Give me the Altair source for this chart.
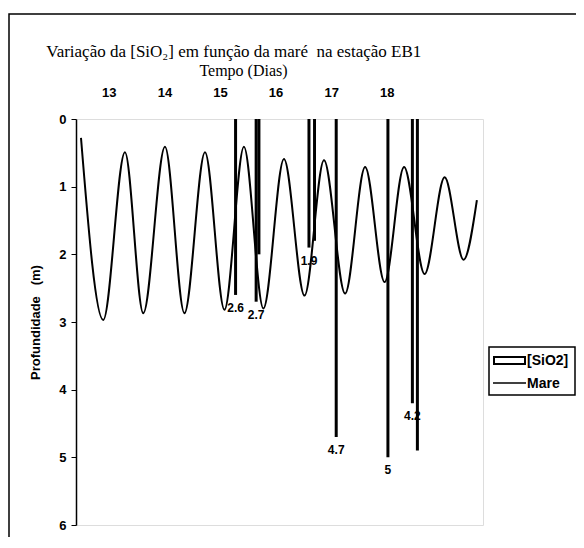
import altair as alt
import pandas as pd

# Tide curve (turning points): day, depth (m)
tide_day = [12.50, 12.90, 13.29, 13.62, 14.01, 14.36, 14.73, 15.08, 15.43, 15.78,
            16.15, 16.52, 16.87, 17.25, 17.61, 17.96, 18.31, 18.68, 19.04, 19.38, 19.62]
tide_depth = [0.28, 2.97, 0.49, 2.87, 0.41, 2.87, 0.49, 2.82, 0.41, 2.80,
              0.59, 2.61, 0.61, 2.58, 0.71, 2.41, 0.71, 2.29, 0.86, 2.08, 1.20]

# [SiO2] bars
bar_day = [15.28, 15.65, 15.70, 16.60, 16.70, 17.09, 18.02, 18.46, 18.55]
bar_val = [2.6, 2.7, 2.0, 1.9, 1.8, 4.7, 5.0, 4.2, 4.9]
bar_label = ["2.6", "2.7", "", "1.9", "", "4.7", "5", "4.2", ""]

day_ticks = [13, 14, 15, 16, 17, 18]
depth_ticks = [0, 1, 2, 3, 4, 5, 6]

legend_names = ["[SiO2]", "Mare"]

tide = pd.DataFrame({"day": tide_day, "depth": tide_depth})
bars = pd.DataFrame({"day": bar_day, "depth": bar_val, "label": bar_label})
one = pd.DataFrame({"k": [0]})

W, H = 407, 406

xscale = alt.Scale(domain=[12.5, 19.64], nice=False, zero=False)
yscale = alt.Scale(domain=[0, 6], reverse=True, nice=False)

xaxis = alt.Axis(orient="top", values=day_ticks, format="d", tickSize=0, domain=False,
                 grid=False, labelFont="Arial", labelFontWeight="bold", labelFontSize=13,
                 labelPadding=20, labelColor="black",
                 title="Tempo (Dias)", titleFont="Liberation Serif", titleFontWeight="normal",
                 titleFontSize=16, titleColor="black", titleX=167, titlePadding=8)
yaxis = alt.Axis(values=depth_ticks, format="d", tickSize=5, grid=False, labelFont="Arial",
                 labelFontWeight="bold", labelFontSize=13, labelPadding=5, labelColor="black",
                 title="Profundidade\u00a0\u00a0\u00a0(m)", titleFont="Arial", titleFontWeight="bold",
                 titleFontSize=13, titleColor="black", titlePadding=16,
                 domainColor="black", tickColor="black", domainWidth=1.5)

line = alt.Chart(tide).mark_line(color="black", strokeWidth=2, interpolate="monotone").encode(
    x=alt.X("day:Q", scale=xscale, axis=xaxis),
    y=alt.Y("depth:Q", scale=yscale, axis=yaxis),
)

barmarks = alt.Chart(bars).mark_bar(size=3, color="black").encode(
    x=alt.X("day:Q"),
    y=alt.Y("depth:Q"),
    y2=alt.datum(0),
)

labels = alt.Chart(bars).mark_text(baseline="top", dy=8, font="Arial", fontWeight="bold",
                                   fontSize=12, color="black").encode(
    x="day:Q", y="depth:Q", text="label:N"
)

frame = alt.Chart(one).mark_rect(fillOpacity=0, stroke="black", strokeWidth=1.5).encode(
    x=alt.value(-67), x2=alt.value(560), y=alt.value(-105), y2=alt.value(460)
)

# legend (drawn manually)
leg_box = alt.Chart(one).mark_rect(fillOpacity=0, stroke="black", strokeWidth=1.5).encode(
    x=alt.value(413), x2=alt.value(499), y=alt.value(228), y2=alt.value(276)
)
leg_sym = alt.Chart(one).mark_rect(fill="white", stroke="black", strokeWidth=2).encode(
    x=alt.value(418), x2=alt.value(449), y=alt.value(238), y2=alt.value(245)
)
leg_line = alt.Chart(one).mark_rule(color="black", strokeWidth=1.5).encode(
    x=alt.value(417), x2=alt.value(450), y=alt.value(264)
)
leg_t1 = alt.Chart(one).mark_text(text=legend_names[0], align="left", baseline="middle",
                                  font="Arial", fontWeight="bold", fontSize=14, color="black").encode(
    x=alt.value(451), y=alt.value(242)
)
leg_t2 = alt.Chart(one).mark_text(text=legend_names[1], align="left", baseline="middle",
                                  font="Arial", fontWeight="bold", fontSize=14, color="black").encode(
    x=alt.value(451), y=alt.value(265)
)

chart = alt.layer(frame, line, barmarks, labels, leg_box, leg_sym, leg_line, leg_t1, leg_t2).properties(
    width=W, height=H,
    title=alt.TitleParams("Variação da [SiO₂] em função da maré\u00a0\u00a0na estação EB1",
                          font="Liberation Serif", fontSize=17, fontWeight="normal",
                          anchor="start", dx=38, offset=-48, color="black"),
    autosize=alt.AutoSizeParams(type="none"),
    padding={"left": 68, "top": 111, "right": 93, "bottom": 12},
).configure_view(stroke="black", strokeWidth=1.5).configure(background="white")

chart.save("out.html", embed_options={"renderer": "svg", "actions": False})
